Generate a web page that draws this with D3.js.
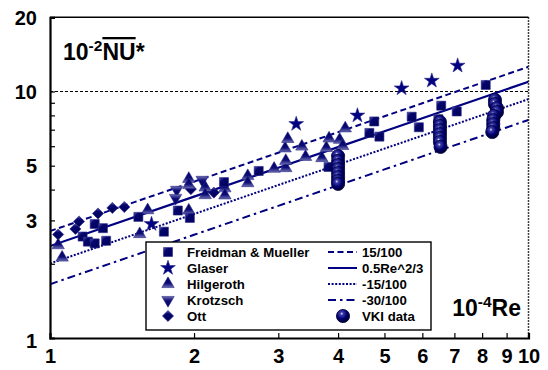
<!DOCTYPE html>
<html>
<head>
<meta charset="utf-8">
<script src="https://cdn.jsdelivr.net/npm/d3@7"></script>
<style>
  body { margin: 0; background: #fff; }
  svg text { font-family: "Liberation Sans", Arial, sans-serif; font-weight: bold; }
</style>
</head>
<body>
<div id="chart"></div>
<script>
// 10^-4 Re on x, 10^-2 NU* on y
var fmX = [1.17, 1.20, 1.24, 1.24, 1.29, 1.31, 1.53, 1.73, 1.85, 1.96, 2.31, 2.73, 3.82, 4.76, 4.65, 4.88, 5.70, 5.90, 6.57, 6.48, 7.08, 8.14];
var fmY = [2.58, 2.46, 2.42, 2.90, 2.79, 2.48, 3.10, 2.70, 3.29, 3.07, 4.29, 4.76, 4.94, 7.56, 6.79, 6.56, 7.90, 7.16, 8.76, 7.72, 8.30, 10.63];

var glX = [1.63, 3.27, 4.39, 5.43, 6.28, 7.11];
var glY = [2.90, 7.38, 7.99, 10.30, 11.06, 12.73];

var hiX = [1.04, 1.06, 1.54, 1.60, 1.95, 1.95, 1.95, 2.11, 2.11, 2.32, 2.32, 2.59, 2.59, 2.94, 3.11, 3.11, 3.10, 3.14, 3.36, 3.42, 3.70, 3.78, 3.83, 4.03, 4.09, 4.14];
var hiY = [2.38, 2.12, 2.64, 3.30, 4.42, 4.18, 3.29, 4.08, 3.80, 4.05, 3.79, 4.54, 4.25, 4.86, 4.89, 5.23, 5.88, 6.42, 5.98, 5.43, 5.37, 5.90, 6.45, 6.37, 6.01, 7.09];

var krX = [1.84, 1.83, 2.08];
var krY = [3.99, 3.70, 4.38];

var ottX = [1.04, 1.13, 1.15, 1.26, 1.35, 1.43, 1.97, 2.20];
var ottY = [2.63, 2.77, 2.97, 3.20, 3.37, 3.40, 4.02, 3.89];

var vkiX = [4.0, 4.0, 4.0, 4.0, 4.0, 4.0, 4.0, 4.0,
            6.53, 6.53, 6.53, 6.53, 6.53, 6.53, 6.55,
            8.51, 8.51, 8.59, 8.59, 8.47, 8.44, 8.44, 8.44, 8.40];
var vkiY = [5.47, 5.23, 5.03, 4.85, 4.67, 4.50, 4.34, 4.22,
            7.52, 7.25, 6.98, 6.72, 6.48, 6.24, 5.96,
            9.24, 8.90, 8.57, 8.26, 7.96, 7.66, 7.38, 7.11, 6.85];

// correlation 0.5 Re^2/3 and the +15, -15, -30 % bands
var corrCoef = 2.36;
var bandFactors = [1.15, 1.0, 0.85, 0.70];
var bandNames = ["15/100", "0.5Re^2/3", "-15/100", "-30/100"];
var bandDash = ["6,3.5", null, "2,1.6", "8,4,2.5,4"];

var xTicks = [1, 2, 3, 4, 5, 6, 7, 8, 9, 10];
var yTickLabels = [1, 3, 5, 10, 20];
var yMinor = [2, 3, 4, 5, 6, 7, 8, 9, 10];

var navy = "#000080";
var W = 548, H = 370;
var plotL = 50, plotR = 528.5, plotT = 17.3, plotB = 338;

var svg = d3.select("#chart").append("svg")
  .attr("width", W).attr("height", H);

var defs = svg.append("defs");
var sq = defs.append("linearGradient").attr("id", "gSq").attr("x1", 0).attr("y1", 0).attr("x2", 1).attr("y2", 1);
sq.append("stop").attr("offset", "0%").attr("stop-color", "#5a5aa6");
sq.append("stop").attr("offset", "30%").attr("stop-color", "#06066e");
sq.append("stop").attr("offset", "100%").attr("stop-color", "#000058");
var tri = defs.append("linearGradient").attr("id", "gTri").attr("x1", 0).attr("y1", 0).attr("x2", 0).attr("y2", 1);
tri.append("stop").attr("offset", "0%").attr("stop-color", "#000060");
tri.append("stop").attr("offset", "60%").attr("stop-color", "#0c0c76");
tri.append("stop").attr("offset", "100%").attr("stop-color", "#6e6eb2");
var sph = defs.append("radialGradient").attr("id", "gSph").attr("cx", "40%").attr("cy", "32%").attr("r", "65%");
sph.append("stop").attr("offset", "0%").attr("stop-color", "#e8e8ff");
sph.append("stop").attr("offset", "18%").attr("stop-color", "#3c3ca8");
sph.append("stop").attr("offset", "60%").attr("stop-color", "#000072");
sph.append("stop").attr("offset", "100%").attr("stop-color", "#00002e");
defs.append("clipPath").attr("id", "plotClip")
  .append("rect").attr("x", plotL).attr("y", plotT).attr("width", plotR - plotL).attr("height", plotB - plotT);

var x = d3.scaleLog().domain([1, 10]).range([plotL, plotR]);
var y = d3.scaleLog().domain([1, 20]).range([plotB, plotT]);

// frame: solid top, dotted right
svg.append("line").attr("x1", plotL).attr("x2", plotR).attr("y1", plotT).attr("y2", plotT)
  .attr("stroke", "#000").attr("stroke-width", 1.5);
svg.append("line").attr("x1", plotR).attr("x2", plotR).attr("y1", plotT).attr("y2", plotB)
  .attr("stroke", "#000").attr("stroke-width", 1.5).attr("stroke-dasharray", "1.5,1.5");

// reference line at 10
svg.append("line").attr("x1", plotL).attr("x2", plotR).attr("y1", y(10)).attr("y2", y(10))
  .attr("stroke", "#000").attr("stroke-width", 1).attr("stroke-dasharray", "3,2");

// correlation lines
var lineGen = d3.line().x(function (d) { return x(d[0]); }).y(function (d) { return y(d[1]); });
var lines = svg.append("g").attr("clip-path", "url(#plotClip)");
bandFactors.forEach(function (f, i) {
  var pts = xTicks.map(function (v) { return [v, f * corrCoef * Math.pow(v, 2 / 3)]; });
  lines.append("path").datum(pts)
    .attr("d", lineGen)
    .attr("fill", "none")
    .attr("stroke", navy)
    .attr("stroke-width", i == 1 ? 2.2 : 2)
    .attr("stroke-dasharray", bandDash[i]);
});

// markers
function zip(a, b) { return a.map(function (v, i) { return [v, b[i]]; }); }
var sqSym = d3.symbol().type(d3.symbolSquare).size(82);
var diaSym = d3.symbol().type(d3.symbolSquare).size(62);
var triSym = d3.symbol().type(d3.symbolTriangle).size(66);
var starSym = d3.symbol().type(d3.symbolStar).size(68);

function drawSym(data, path, fill, rot) {
  svg.append("g").selectAll("path")
    .data(data).enter().append("path")
    .attr("d", path)
    .attr("transform", function (d) { return "translate(" + x(d[0]) + "," + y(d[1]) + ")" + (rot ? " rotate(" + rot + ")" : ""); })
    .attr("fill", fill)
    .attr("stroke", "#2a2a8a").attr("stroke-width", 0.6);
}
drawSym(zip(ottX, ottY), diaSym, "url(#gSq)", 45);
drawSym(zip(hiX, hiY), triSym, "url(#gTri)", 0);
drawSym(zip(krX, krY), triSym, "url(#gTri)", 180);
drawSym(zip(fmX, fmY), sqSym, "url(#gSq)", 0);
drawSym(zip(glX, glY), starSym, navy, 0);

svg.append("g").selectAll("circle")
  .data(zip(vkiX, vkiY)).enter().append("circle")
  .attr("cx", function (d) { return x(d[0]); })
  .attr("cy", function (d) { return y(d[1]); })
  .attr("r", 6.6)
  .attr("fill", "url(#gSph)")
  .attr("stroke", "#000040").attr("stroke-width", 0.8);

// legend
var lg = svg.append("g");
lg.append("rect").attr("x", 146).attr("y", 242).attr("width", 285).attr("height", 88)
  .attr("fill", "#fff").attr("stroke", "#000").attr("stroke-width", 1.4);
var leftItems = [
  { name: "Freidman & Mueller", sym: sqSym, fill: "url(#gSq)", rot: 0 },
  { name: "Glaser", sym: starSym, fill: navy, rot: 0 },
  { name: "Hilgeroth", sym: triSym, fill: "url(#gTri)", rot: 0 },
  { name: "Krotzsch", sym: triSym, fill: "url(#gTri)", rot: 180 },
  { name: "Ott", sym: diaSym, fill: "url(#gSq)", rot: 45 }
];
leftItems.forEach(function (it, i) {
  var ly = 252 + i * 16;
  lg.append("path").attr("d", it.sym)
    .attr("transform", "translate(168," + ly + ")" + (it.rot ? " rotate(" + it.rot + ")" : ""))
    .attr("fill", it.fill).attr("stroke", "#2a2a8a").attr("stroke-width", 0.6);
  lg.append("text").attr("x", 187).attr("y", ly).attr("dy", "0.36em")
    .attr("font-size", 13.2).text(it.name);
});
bandNames.forEach(function (n, i) {
  var ly = 252 + i * 16;
  lg.append("line").attr("x1", 328).attr("x2", 357).attr("y1", ly).attr("y2", ly)
    .attr("stroke", navy).attr("stroke-width", 2).attr("stroke-dasharray", bandDash[i]);
  lg.append("text").attr("x", 362).attr("y", ly).attr("dy", "0.36em")
    .attr("font-size", 13.2).text(n);
});
lg.append("circle").attr("cx", 343).attr("cy", 316).attr("r", 6.6)
  .attr("fill", "url(#gSph)").attr("stroke", "#000040").attr("stroke-width", 0.8);
lg.append("text").attr("x", 362).attr("y", 316).attr("dy", "0.36em")
  .attr("font-size", 13.2).text("VKI data");

// axes
var xAxis = svg.append("g").attr("transform", "translate(0," + plotB + ")")
  .call(d3.axisBottom(x).tickValues(xTicks).tickSize(-5).tickFormat(d3.format("d")));
xAxis.select(".domain").attr("stroke", "#000").attr("stroke-width", 2.2);
xAxis.selectAll(".tick line").attr("stroke", "#000").attr("stroke-width", 1.2);
xAxis.selectAll(".tick text").attr("font-size", 20).attr("fill", "#000").attr("y", 11);

var yAxis = svg.append("g").attr("transform", "translate(" + plotL + ",0)")
  .call(d3.axisLeft(y).tickValues(yMinor).tickSize(-5).tickFormat(""));
yAxis.select(".domain").attr("stroke", "#000").attr("stroke-width", 2.2);
yAxis.selectAll(".tick line").attr("stroke", "#000").attr("stroke-width", 1.2);

svg.append("g").selectAll("text")
  .data(yTickLabels).enter().append("text")
  .attr("x", 37)
  .attr("y", function (d) { return y(d) + (d == 1 ? 3 : 0); })
  .attr("dy", "0.36em")
  .attr("text-anchor", "end")
  .attr("font-size", 20)
  .text(function (d) { return d; });

// axis titles
var t1 = svg.append("text").attr("x", 63).attr("y", 60).attr("font-size", 23);
t1.append("tspan").text("10");
t1.append("tspan").attr("font-size", 15.5).attr("dy", -9).text("-2");
t1.append("tspan").attr("dy", 9).attr("text-decoration", "overline").text("NU");
t1.append("tspan").text("*");

var t2 = svg.append("text").attr("x", 521).attr("y", 316).attr("text-anchor", "end").attr("font-size", 23);
t2.append("tspan").text("10");
t2.append("tspan").attr("font-size", 15.5).attr("dy", -9).text("-4");
t2.append("tspan").attr("dy", 9).text("Re");
</script>
</body>
</html>
